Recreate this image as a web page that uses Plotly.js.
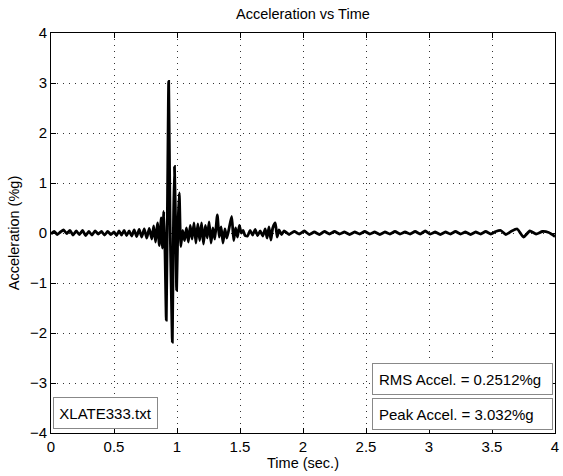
<!DOCTYPE html>
<html>
<head>
<meta charset="utf-8">
<script src="https://cdn.plot.ly/plotly-3.0.1.min.js"></script>
<style>html,body{margin:0;padding:0;background:#fff;}#chart{width:563px;height:476px;}</style>
</head>
<body>
<div id="chart"></div>
<script>
// Time (s) and acceleration (%g) samples
const timeSec = [
  0.00,0.025,0.05,0.075,0.10,0.125,0.15,0.175,0.20,0.225,0.25,0.275,0.30,0.325,0.35,0.375,0.40,0.425,0.45,0.475,
  0.50,0.52,0.54,0.56,0.58,0.60,0.62,0.64,0.66,0.68,0.70,0.72,0.74,0.76,0.78,0.80,0.815,0.83,0.845,0.86,0.875,0.885,0.895,0.905,
  0.915,0.925,0.934,0.945,0.955,0.963,0.972,0.98,0.99,0.997,1.007,1.018,1.03,1.045,1.06,1.075,1.09,1.105,1.12,1.135,1.15,1.165,1.18,1.195,
  1.21,1.225,1.24,1.255,1.27,1.285,1.30,1.32,1.335,1.35,1.365,1.38,1.395,1.41,1.434,1.45,1.465,1.48,1.495,1.51,1.525,1.54,
  1.56,1.58,1.60,1.62,1.64,1.66,1.68,1.70,1.715,1.73,1.745,1.76,1.78,1.795,1.81,1.83,1.85,
  1.89,1.93,1.97,2.01,2.05,2.09,2.13,2.17,2.21,2.25,2.29,2.33,2.37,2.41,2.45,2.49,2.53,2.57,2.61,2.65,2.69,2.73,2.77,2.81,2.85,2.89,2.93,2.97,3.01,
  3.05,3.09,3.13,3.17,3.21,3.25,3.29,3.33,3.37,3.41,3.45,3.49,3.53,3.57,3.61,3.65,3.70,3.75,3.80,3.85,3.90,3.95,4.00
];
const accelPct = [
  -0.02,0.03,-0.03,0.02,0.06,-0.01,0.05,-0.04,0.04,-0.03,0.05,-0.05,0.03,-0.04,0.04,-0.02,0.03,-0.04,0.03,-0.03,
  0.02,-0.05,0.04,-0.04,0.05,-0.05,0.04,-0.06,0.06,-0.07,0.07,-0.08,0.08,-0.10,0.09,-0.12,0.14,-0.18,0.20,-0.25,0.30,-0.30,0.43,-0.40,
  -1.74,0.80,3.03,0.20,-1.20,-2.18,0.20,1.33,0.00,-1.14,0.10,0.80,-0.27,0.05,-0.15,0.10,-0.18,0.15,-0.12,0.20,-0.20,0.18,-0.15,0.20,
  -0.22,0.15,-0.10,0.22,-0.20,0.10,-0.12,0.36,-0.08,0.12,-0.20,0.08,-0.10,0.05,0.33,-0.15,0.10,-0.08,0.15,0.00,0.05,-0.05,
  -0.06,0.05,-0.04,0.07,-0.05,0.04,-0.06,0.08,-0.10,0.12,-0.14,0.10,0.20,-0.08,0.06,-0.03,0.04,
  -0.03,0.03,-0.02,0.04,-0.03,0.02,-0.03,0.03,-0.02,0.03,-0.02,0.02,-0.03,0.02,-0.02,0.03,-0.02,0.02,-0.03,0.02,-0.02,0.03,-0.02,0.02,-0.02,0.03,-0.02,0.04,-0.02,
  0.02,-0.03,0.02,-0.02,0.03,-0.02,0.02,-0.03,0.02,-0.02,0.03,-0.02,0.03,0.05,-0.03,0.03,0.08,-0.08,0.04,-0.02,0.03,0.01,-0.07
];
const xTicks = [0,0.5,1,1.5,2,2.5,3,3.5,4];
const yTicks = [-4,-3,-2,-1,0,1,2,3,4];
const chartTitle = 'Acceleration vs Time';
const xLabel = 'Time (sec.)';
const yLabel = 'Acceleration (%g)';
const fileLabel = 'XLATE333.txt';
const rmsLabel = 'RMS Accel. = 0.2512%g';
const peakLabel = 'Peak Accel. = 3.032%g';

const fam = 'Liberation Sans, Arial, sans-serif';
const font = {family: fam, size: 15, color: '#000'};
const titleFont = {family: fam, size: 14.5, color: '#000'};
const axisCommon = {
  showline: true, mirror: 'ticks', linecolor: '#000', linewidth: 1,
  ticks: 'inside', ticklen: 5, tickcolor: '#000',
  showgrid: true, gridcolor: '#333', griddash: '1px,5px', gridwidth: 1,
  zeroline: false, tickfont: font
};

const trace = {
  x: timeSec, y: accelPct, type: 'scatter', mode: 'lines',
  line: {color: '#000', width: 2.8, shape: 'spline', smoothing: 0.5}, hoverinfo: 'skip'
};

const boxAnn = (text, x, xanchor, y, yanchor, w, h, pad, xshift, yshift, align) => ({
  text: text, xref: 'paper', yref: 'paper', x: x, y: y, xanchor: xanchor, yanchor: yanchor,
  showarrow: false, font: font, bgcolor: '#fff', bordercolor: '#888', borderwidth: 1,
  borderpad: pad, width: w, height: h, align: align, xshift: xshift, yshift: yshift
});

const layout = {
  width: 563, height: 476,
  margin: {l: 51, r: 8, t: 33, b: 43},
  paper_bgcolor: '#fff', plot_bgcolor: '#fff',
  showlegend: false,
  title: {text: chartTitle, font: titleFont, x: 0.538, xanchor: 'center', y: 0.97, yanchor: 'middle'},
  xaxis: Object.assign({}, axisCommon, {
    range: [0, 4], tickvals: xTicks, ticktext: xTicks.map(String),
    title: {text: xLabel, font: titleFont, standoff: 3}
  }),
  yaxis: Object.assign({}, axisCommon, {
    range: [-4, 4], tickvals: yTicks,
    title: {text: yLabel, font: titleFont, standoff: 6}
  }),
  annotations: [
    boxAnn(fileLabel, 0, 'left', 0, 'bottom', 97, 24, 3, 2, 4, 'center'),
    boxAnn(rmsLabel, 1, 'right', 0.095, 'bottom', 167, 18, 6, -2, 0, 'left'),
    boxAnn(peakLabel, 1, 'right', 0, 'bottom', 167, 18, 6, -2, 3, 'left')
  ]
};

Plotly.newPlot('chart', [trace], layout, {staticPlot: true, displayModeBar: false});
</script>
</body>
</html>
